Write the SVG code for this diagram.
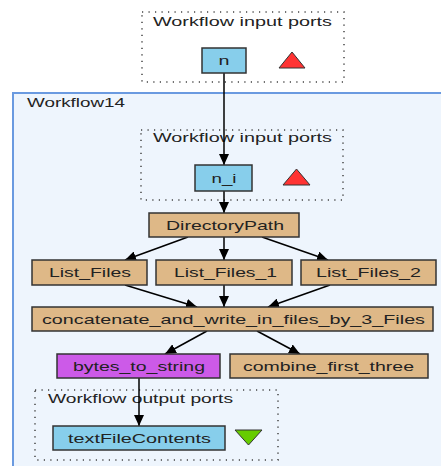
<svg xmlns="http://www.w3.org/2000/svg" width="441" height="466" viewBox="0 0 441 466">
<defs>
<style>
.t{font-family:"Liberation Sans",Arial,sans-serif;font-size:13.5px;fill:#222;}
.c{text-anchor:middle;}
.tan{fill:#deb887;stroke:#333;stroke-width:1.5;}
.blue{fill:#87ceeb;stroke:#333;stroke-width:1.5;}
.purp{fill:#cc5ae8;stroke:#333;stroke-width:1.5;}
.dot{fill:none;stroke:#444;stroke-width:1.5;stroke-dasharray:1.2 5.3;}
.e{fill:none;stroke:#000;stroke-width:1.5;marker-end:url(#ah);}
</style>
<marker id="ah" viewBox="0 0 11 10" refX="11" refY="5" markerWidth="11" markerHeight="10" markerUnits="userSpaceOnUse" orient="auto">
<path d="M0,0 L11,5 L0,10 z" fill="#000"/>
</marker>
</defs>
<rect width="441" height="466" fill="#fff"/>
<g id="top_inputs">
<rect class="dot" x="142" y="12" width="202" height="70"/>
<text class="t" x="153" y="26" textLength="179" lengthAdjust="spacingAndGlyphs">Workflow input ports</text>
</g>
<g id="workflow14">
<rect x="13" y="93" width="440" height="380" fill="#eef5fd" stroke="#6a9ae0" stroke-width="2"/>
<text class="t" x="27" y="107" textLength="98" lengthAdjust="spacingAndGlyphs">Workflow14</text>
</g>
<g id="inner_inputs">
<rect class="dot" x="141" y="130" width="202" height="70"/>
<text class="t" x="153" y="142" textLength="179" lengthAdjust="spacingAndGlyphs">Workflow input ports</text>
</g>
<g id="outputs">
<rect class="dot" x="35" y="390" width="243" height="70"/>
<text class="t" x="48" y="403" textLength="185" lengthAdjust="spacingAndGlyphs">Workflow output ports</text>
</g>
<g id="connectors">
<path class="e" d="M224,73 L224,165"/>
<path class="e" d="M224,191 L224,213"/>
<path class="e" d="M188,237 L125,260"/>
<path class="e" d="M224,237 L224,260"/>
<path class="e" d="M262,237 L328,260"/>
<path class="e" d="M125,285 L197,307"/>
<path class="e" d="M224,285 L224,307"/>
<path class="e" d="M330,285 L268,307"/>
<path class="e" d="M207,331 L165,354"/>
<path class="e" d="M257,331 L300,354"/>
<path class="e" d="M139,378 L139,426"/>
</g>
<g id="n">
<rect class="blue" x="202" y="48" width="44" height="25"/>
<text class="t c" x="224" y="65" textLength="11" lengthAdjust="spacingAndGlyphs">n</text>
<polygon points="279,68 292,52 305,68" fill="#f33" stroke="#333" stroke-width="1"/>
</g>
<g id="n_i">
<rect class="blue" x="195" y="165" width="57" height="26"/>
<text class="t c" x="224" y="183" textLength="25" lengthAdjust="spacingAndGlyphs">n_i</text>
<polygon points="283,185 296.5,169 310,185" fill="#f33" stroke="#333" stroke-width="1"/>
</g>
<g id="DirectoryPath">
<rect class="tan" x="149" y="213" width="150" height="24"/>
<text class="t c" x="225" y="230" textLength="118" lengthAdjust="spacingAndGlyphs">DirectoryPath</text>
</g>
<g id="List_Files">
<rect class="tan" x="32" y="260" width="115" height="25"/>
<text class="t c" x="90" y="277" textLength="82" lengthAdjust="spacingAndGlyphs">List_Files</text>
</g>
<g id="List_Files_1">
<rect class="tan" x="156" y="260" width="136" height="25"/>
<text class="t c" x="225.5" y="277" textLength="103" lengthAdjust="spacingAndGlyphs">List_Files_1</text>
</g>
<g id="List_Files_2">
<rect class="tan" x="301" y="260" width="135" height="25"/>
<text class="t c" x="368.5" y="277" textLength="105" lengthAdjust="spacingAndGlyphs">List_Files_2</text>
</g>
<g id="concatenate">
<rect class="tan" x="32" y="307" width="401" height="24"/>
<text class="t c" x="233.5" y="324" textLength="383" lengthAdjust="spacingAndGlyphs">concatenate_and_write_in_files_by_3_Files</text>
</g>
<g id="bytes_to_string">
<rect class="purp" x="57" y="354" width="163" height="24"/>
<text class="t c" x="139" y="371" textLength="132" lengthAdjust="spacingAndGlyphs">bytes_to_string</text>
</g>
<g id="combine_first_three">
<rect class="tan" x="230" y="354" width="198" height="24"/>
<text class="t c" x="328.5" y="371" textLength="171" lengthAdjust="spacingAndGlyphs">combine_first_three</text>
</g>
<g id="textFileContents">
<rect class="blue" x="53" y="426" width="172" height="24"/>
<text class="t c" x="139.5" y="443" textLength="143" lengthAdjust="spacingAndGlyphs">textFileContents</text>
<polygon points="235,430 262,430 248.5,445" fill="#66cc00" stroke="#333" stroke-width="1"/>
</g>
</svg>
